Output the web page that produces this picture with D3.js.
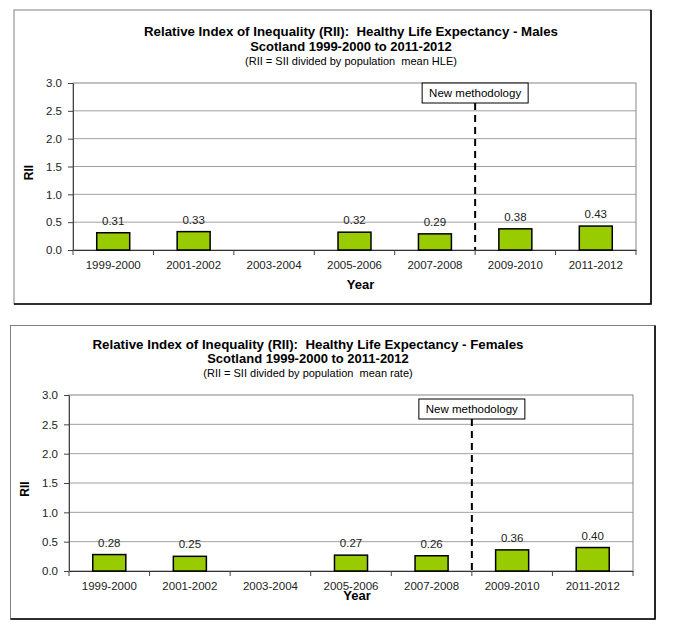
<!DOCTYPE html>
<html>
<head>
<meta charset="utf-8">
<script src="https://cdn.jsdelivr.net/npm/d3@7"></script>
<style>
  body { margin: 0; background: #fff; }
  svg text { font-family: "Liberation Sans", Arial, sans-serif; white-space: pre; }
</style>
</head>
<body>
<div id="chart"></div>
<script>
// categories and values (2003-2004 has no value)
var years = ["1999-2000", "2001-2002", "2003-2004", "2005-2006", "2007-2008", "2009-2010", "2011-2012"];
var maleRII = [0.31, 0.33, null, 0.32, 0.29, 0.38, 0.43];
var femaleRII = [0.28, 0.25, null, 0.27, 0.26, 0.36, 0.40];
var yTicks = [0, 0.5, 1.0, 1.5, 2.0, 2.5, 3.0];
var maleTitle = ["Relative Index of Inequality (RII):  Healthy Life Expectancy - Males",
                 "Scotland 1999-2000 to 2011-2012",
                 "(RII = SII divided by population  mean HLE)"];
var femaleTitle = ["Relative Index of Inequality (RII):  Healthy Life Expectancy - Females",
                   "Scotland 1999-2000 to 2011-2012",
                   "(RII = SII divided by population  mean rate)"];
var breakAfter = "2007-2008"; // methodology change

var svg = d3.select("#chart").append("svg")
    .attr("width", 687)
    .attr("height", 629);

//layout of the two panels
var panels = [
  {values: maleRII, title: maleTitle, frame: [14, 10, 651, 304], plot: [73, 83, 636, 250],
   titleX: 351, titleY: [36, 51, 65], titleW: 414, yearY: 289, boxTop: 83},
  {values: femaleRII, title: femaleTitle, frame: [10.5, 325.5, 655, 619], plot: [69, 395, 633, 571],
   titleX: 308, titleY: [349, 363, 377], titleW: 431, yearY: 600, boxTop: 399}
];

panels.forEach(drawPanel);

function drawPanel(p) {
  var g = svg.append("g");
  var f = p.frame;

  //outer chart border
  g.append("rect")
    .attr("x", f[0]).attr("y", f[1])
    .attr("width", f[2] - f[0]).attr("height", f[3] - f[1])
    .attr("fill", "#fff")
    .attr("stroke", "#808080");
  g.append("path")
    .attr("d", "M" + f[2] + "," + f[1] + "V" + f[3] + "H" + f[0])
    .attr("fill", "none")
    .attr("stroke", "#000")
    .attr("stroke-width", 1.6);

  var left = p.plot[0], top = p.plot[1], right = p.plot[2], bottom = p.plot[3];

  var x = d3.scaleBand()
    .domain(years)
    .range([left, right]);
  var y = d3.scaleLinear()
    .domain([0, 3])
    .range([bottom, top]);

  //titles
  g.append("text")
    .attr("x", p.titleX).attr("y", p.titleY[0])
    .attr("text-anchor", "middle")
    .attr("font-size", 13).attr("font-weight", "bold")
    .attr("textLength", p.titleW).attr("lengthAdjust", "spacingAndGlyphs")
    .text(p.title[0]);
  g.append("text")
    .attr("x", p.titleX).attr("y", p.titleY[1])
    .attr("text-anchor", "middle")
    .attr("font-size", 13).attr("font-weight", "bold")
    .text(p.title[1]);
  g.append("text")
    .attr("x", p.titleX).attr("y", p.titleY[2])
    .attr("text-anchor", "middle")
    .attr("font-size", 11)
    .text(p.title[2]);

  //gridlines
  g.selectAll(".grid")
    .data(yTicks.filter(function(d) { return d > 0 && d < 3; }))
    .enter().append("line")
      .attr("x1", left).attr("x2", right)
      .attr("y1", function(d) { return y(d); })
      .attr("y2", function(d) { return y(d); })
      .attr("stroke", "#a0a0a0");

  //plot area border
  g.append("rect")
    .attr("x", left).attr("y", top)
    .attr("width", right - left).attr("height", bottom - top)
    .attr("fill", "none")
    .attr("stroke", "#868686");

  //y-axis
  var yAxis = g.append("g")
    .attr("transform", "translate(" + left + ",0)")
    .call(d3.axisLeft(y).tickValues(yTicks).tickFormat(d3.format(".1f")).tickSize(5).tickPadding(6).tickSizeOuter(0));
  yAxis.selectAll("text").attr("font-size", 11.5).attr("font-family", "Liberation Sans, Arial, sans-serif").attr("fill", "#222");
  yAxis.selectAll("line, path").attr("stroke", "#444");

  //x-axis labels
  var xAxis = g.append("g")
    .attr("transform", "translate(0," + bottom + ")")
    .call(d3.axisBottom(x).tickSize(0).tickPadding(11));
  xAxis.select(".domain").attr("stroke", "#333");
  xAxis.selectAll("text").attr("font-size", 11.5).attr("font-family", "Liberation Sans, Arial, sans-serif").attr("fill", "#222");

  //category tick marks sit between the categories
  var bounds = years.map(function(d) { return x(d); }).concat([x.range()[1]]);
  g.selectAll(".xtick")
    .data(bounds)
    .enter().append("line")
      .attr("x1", function(d) { return d; }).attr("x2", function(d) { return d; })
      .attr("y1", bottom).attr("y2", bottom + 5)
      .attr("stroke", "#444");

  //bars
  var data = years.map(function(d, i) { return {year: d, v: p.values[i]}; })
    .filter(function(d) { return d.v != null; });
  var barW = x.bandwidth() * 0.41;

  g.selectAll(".bar")
    .data(data)
    .enter().append("rect")
      .attr("x", function(d) { return x(d.year) + (x.bandwidth() - barW) / 2; })
      .attr("y", function(d) { return y(d.v); })
      .attr("width", barW)
      .attr("height", function(d) { return y(0) - y(d.v); })
      .attr("fill", "#99cc00")
      .attr("stroke", "#000")
      .attr("stroke-width", 1.5);

  //value labels
  g.selectAll(".val")
    .data(data)
    .enter().append("text")
      .attr("x", function(d) { return x(d.year) + x.bandwidth() / 2; })
      .attr("y", function(d) { return y(d.v) - 8; })
      .attr("text-anchor", "middle")
      .attr("font-size", 11.5)
      .attr("fill", "#222")
      .text(function(d) { return d3.format(".2f")(d.v); });

  //new methodology marker
  var xb = x(breakAfter) + x.bandwidth();
  g.append("line")
    .attr("x1", xb).attr("x2", xb)
    .attr("y1", p.boxTop + 20).attr("y2", bottom)
    .attr("stroke", "#000")
    .attr("stroke-width", 2)
    .attr("stroke-dasharray", "7,5");
  g.append("rect")
    .attr("x", xb - 53).attr("y", p.boxTop)
    .attr("width", 106).attr("height", 20)
    .attr("fill", "#fff")
    .attr("stroke", "#000");
  g.append("text")
    .attr("x", xb).attr("y", p.boxTop + 14)
    .attr("text-anchor", "middle")
    .attr("font-size", 11.5)
    .text("New methodology");

  //axis titles
  g.append("text")
    .attr("transform", "translate(" + (left - 40) + "," + ((top + bottom) / 2 + 6) + ") rotate(-90)")
    .attr("text-anchor", "middle")
    .attr("font-size", 12).attr("font-weight", "bold")
    .text("RII");
  g.append("text")
    .attr("x", (left + right) / 2 + 6).attr("y", p.yearY)
    .attr("text-anchor", "middle")
    .attr("font-size", 13).attr("font-weight", "bold")
    .text("Year");
}
</script>
</body>
</html>
